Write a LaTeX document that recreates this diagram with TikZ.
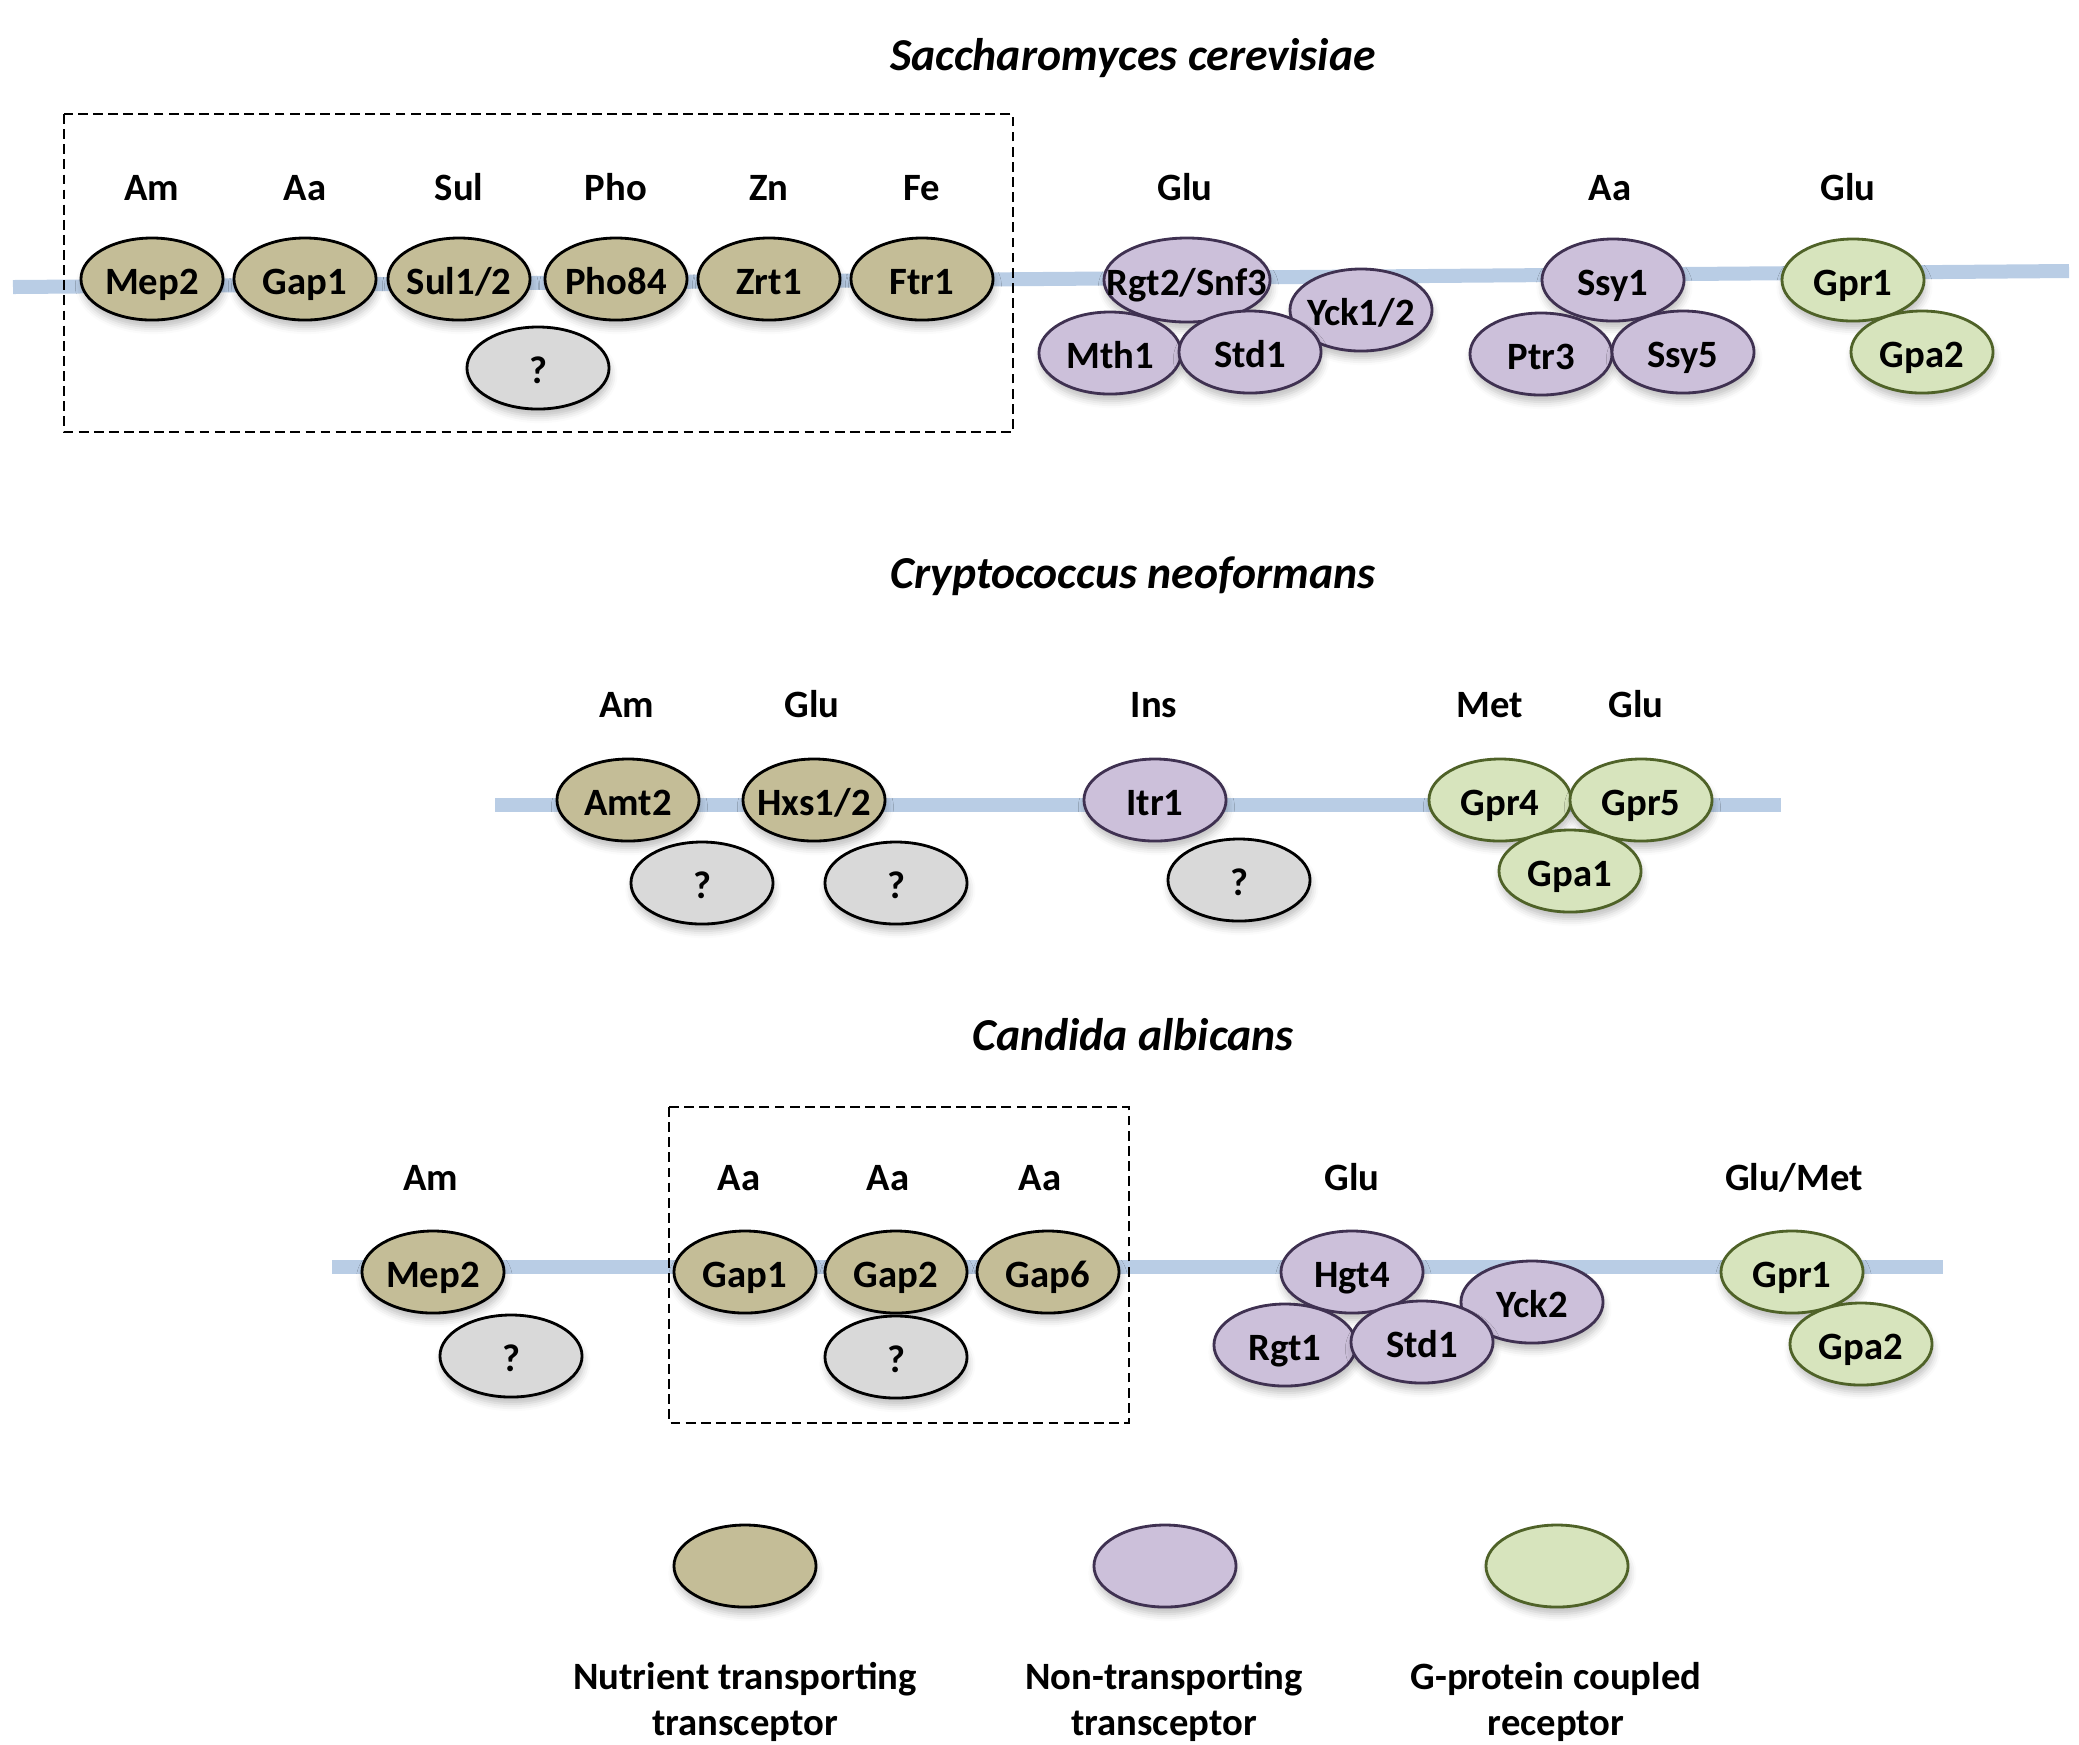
\documentclass[tikz,border=0pt]{standalone}
\usepackage{fontspec}
\setmainfont{Carlito}
\usetikzlibrary{shapes.geometric,shadows.blur}

\definecolor{membrane}{HTML}{B9CDE5}
\definecolor{tanfill}{HTML}{C4BD97}
\definecolor{lilacfill}{HTML}{CCC0DA}
\definecolor{lilacline}{HTML}{3F3151}
\definecolor{olivefill}{HTML}{D7E4BD}
\definecolor{oliveline}{HTML}{4F6228}
\definecolor{unknownfill}{HTML}{D9D9D9}

\begin{document}
\begin{tikzpicture}[x=0.01cm, y=-0.01cm,
  font=\fontsize{11}{13}\selectfont\bfseries,
  prot/.style={ellipse, minimum width=1.42cm, minimum height=0.82cm,
    inner xsep=-6mm, inner ysep=0pt, text height=9pt, text depth=0pt,
    line width=0.8pt,
    blur shadow={shadow xshift=0.4pt, shadow yshift=-2pt,
      shadow blur radius=2pt, shadow opacity=25}},
  nutr/.style={prot, draw=black, fill=tanfill},
  nontr/.style={prot, draw=lilacline, fill=lilacfill},
  gpcr/.style={prot, draw=oliveline, fill=olivefill},
  unk/.style={prot, draw=black, fill=unknownfill},
  sub/.style={anchor=base},
  species/.style={anchor=base, font=\fontsize{13}{15}\selectfont\bfseries\itshape},
  memline/.style={line width=0.14cm, membrane},
  groupbox/.style={draw, line width=0.7pt, dash pattern=on 2.8pt off 1.5pt},
  legtext/.style={align=center}
]
  \useasboundingbox (0,0) rectangle (2079,1744);

  % Saccharomyces cerevisiae
  \node[species] (titleS) at (1133,70) {Saccharomyces cerevisiae};
  \coordinate (memSl) at (13,287);
  \coordinate (memSr) at (2069,271);
  \draw[memline] (memSl) -- (memSr);
  \draw[groupbox] (64,114) rectangle (1013,432);

  \node[sub] (amS)  at (152,200) {Am};
  \node[sub] (aaS)  at (305,200) {Aa};
  \node[sub] (sulS) at (459,200) {Sul};
  \node[sub] (phoS) at (616,200) {Pho};
  \node[sub] (znS)  at (769,200) {Zn};
  \node[sub] (feS)  at (922,200) {Fe};
  \node[sub] (gluSa) at (1185,200) {Glu};
  \node[sub] (aaSb) at (1610,200) {Aa};
  \node[sub] (gluSb) at (1848,200) {Glu};

  \node[nutr] (mepS)   at (152,279) {Mep2};
  \node[nutr] (gapS)   at (305,279) {Gap1};
  \node[nutr] (sulpS)  at (459,279) {Sul1/2};
  \node[nutr] (phopS)  at (616,279) {Pho84};
  \node[nutr] (zrtS)   at (769,279) {Zrt1};
  \node[nutr] (ftrS)   at (922,279) {Ftr1};
  \node[unk]  (unkS)   at (538,368) {?};

  \node[nontr, minimum width=1.66cm, minimum height=0.84cm] (rgtS) at (1187,280) {Rgt2/Snf3};
  \node[nontr] (yckS)  at (1361,310) {Yck1/2};
  \node[nontr] (mthS)  at (1110,353) {Mth1};
  \node[nontr] (stdS)  at (1250,352) {Std1};
  \node[nontr] (ssyS)  at (1613,280) {Ssy1};
  \node[nontr] (ptrS)  at (1541,354) {Ptr3};
  \node[nontr] (ssyfS) at (1683,352) {Ssy5};
  \node[gpcr]  (gprS)  at (1853,280) {Gpr1};
  \node[gpcr]  (gpaS)  at (1922,352) {Gpa2};

  % Cryptococcus neoformans
  \node[species] (titleC) at (1133,588) {Cryptococcus neoformans};
  \coordinate (memCl) at (495,805);
  \coordinate (memCr) at (1781,805);
  \draw[memline] (memCl) -- (memCr);

  \node[sub] (amC)   at (627,717) {Am};
  \node[sub] (gluCa) at (812,717) {Glu};
  \node[sub] (insC)  at (1154,717) {Ins};
  \node[sub] (metC)  at (1490,717) {Met};
  \node[sub] (gluCb) at (1636,717) {Glu};

  \node[nutr]  (amtC) at (628,800) {Amt2};
  \node[nutr]  (hxsC) at (814,800) {Hxs1/2};
  \node[unk]   (unkCa) at (702,883) {?};
  \node[unk]   (unkCb) at (896,883) {?};
  \node[nontr] (itrC) at (1155,800) {Itr1};
  \node[unk]   (unkCc) at (1239,880) {?};
  \node[gpcr]  (gprfC) at (1500,800) {Gpr4};
  \node[gpcr]  (gprvC) at (1641,800) {Gpr5};
  \node[gpcr]  (gpaC)  at (1570,871) {Gpa1};

  % Candida albicans
  \node[species] (titleA) at (1133,1050) {Candida albicans};
  \coordinate (memAl) at (332,1267);
  \coordinate (memAr) at (1943,1267);
  \draw[memline] (memAl) -- (memAr);
  \draw[groupbox] (669,1107) rectangle (1129,1423);

  \node[sub] (amA)  at (431,1190) {Am};
  \node[sub] (aaAa) at (739,1190) {Aa};
  \node[sub] (aaAb) at (888,1190) {Aa};
  \node[sub] (aaAc) at (1040,1190) {Aa};
  \node[sub] (gluA) at (1352,1190) {Glu};
  \node[sub] (glumetA) at (1794,1190) {Glu/Met};

  \node[nutr]  (mepA)  at (433,1272) {Mep2};
  \node[unk]   (unkAa) at (511,1356) {?};
  \node[nutr]  (gapoA) at (745,1272) {Gap1};
  \node[nutr]  (gaptA) at (896,1272) {Gap2};
  \node[nutr]  (gapsA) at (1048,1272) {Gap6};
  \node[unk]   (unkAb) at (896,1357) {?};
  \node[nontr] (hgtA)  at (1352,1272) {Hgt4};
  \node[nontr] (yckA)  at (1532,1302) {Yck2};
  \node[nontr] (rgtA)  at (1285,1345) {Rgt1};
  \node[nontr] (stdA)  at (1422,1342) {Std1};
  \node[gpcr]  (gprA)  at (1792,1272) {Gpr1};
  \node[gpcr]  (gpaA)  at (1861,1344) {Gpa2};

  % legend
  \node[nutr]  (keyNutr)  at (745,1566) {};
  \node[nontr] (keyNontr) at (1165,1566) {};
  \node[gpcr]  (keyGpcr)  at (1557,1566) {};
  \node[legtext] (txtNutr)  at (745,1702)  {Nutrient transporting\\transceptor};
  \node[legtext] (txtNontr) at (1164,1702) {Non-transporting\\transceptor};
  \node[legtext] (txtGpcr)  at (1556,1702) {G-protein coupled\\receptor};
\end{tikzpicture}
\end{document}
